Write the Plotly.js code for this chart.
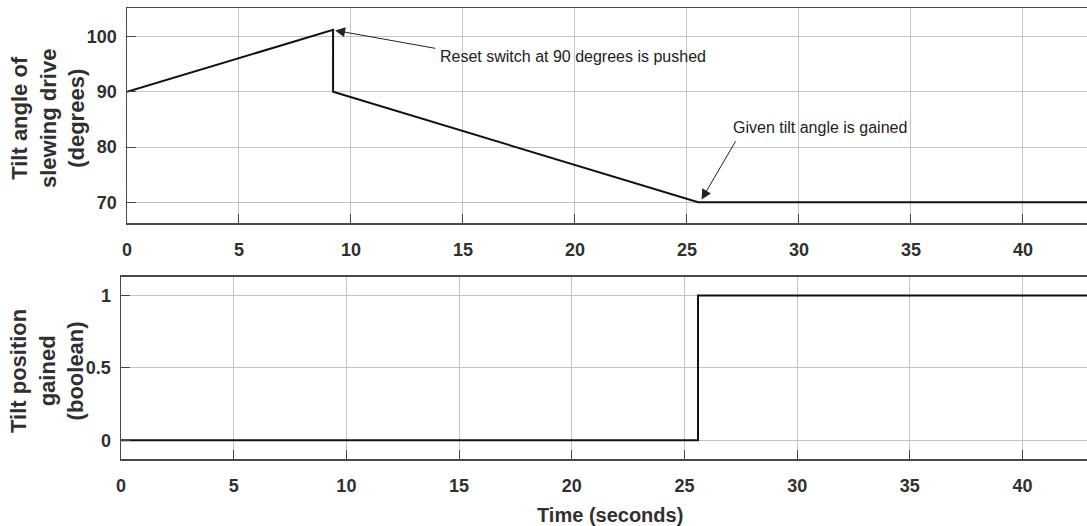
<!DOCTYPE html>
<html>
<head>
<meta charset="utf-8">
<script src="https://cdn.plot.ly/plotly-3.0.1.min.js"></script>
<style>html,body{margin:0;padding:0;background:#fff;}#chart{width:1087px;height:526px;}</style>
</head>
<body>
<div id="chart"></div>
<script>
// ---- data ----
var timeAngle = [0, 9.2, 9.2, 25.5, 42.9];
var tiltAngle = [90, 101.2, 90, 70, 70];
var timeGained = [0, 25.6, 25.6, 42.9];
var tiltGained = [0, 0, 1, 1];
var xTicks = [0, 5, 10, 15, 20, 25, 30, 35, 40];
var yTicksAngle = [70, 80, 90, 100];
var yTicksGained = [0, 0.5, 1];
var yTickTextGained = ['0', '0.5', '1'];

var FONT = 'Liberation Sans, Arial, sans-serif';
var TXT = '#303030';

var traces = [
  {x: timeAngle, y: tiltAngle, xaxis: 'x', yaxis: 'y', mode: 'lines',
   line: {color: '#111', width: 2}, hoverinfo: 'skip'},
  {x: timeGained, y: tiltGained, xaxis: 'x2', yaxis: 'y2', mode: 'lines',
   line: {color: '#111', width: 2}, hoverinfo: 'skip'}
];

function xax(domain, anchor) {
  return {domain: domain, anchor: anchor, range: [0, 42.86], tickvals: xTicks,
    showgrid: true, gridcolor: '#c4c4c4', gridwidth: 1, zeroline: false,
    showline: true, linecolor: '#4a4a4a', linewidth: 1.5, mirror: true,
    ticks: 'inside', ticklen: 9, tickcolor: '#444', tickwidth: 1,
    ticklabelstandoff: 10,
    tickfont: {family: FONT, size: 18, color: TXT, weight: 'bold'}};
}
function yax(domain, anchor, range, vals, text) {
  var a = {domain: domain, anchor: anchor, range: range, tickvals: vals,
    showgrid: true, gridcolor: '#c4c4c4', gridwidth: 1, zeroline: false,
    showline: true, linecolor: '#4a4a4a', linewidth: 1.5, mirror: false,
    ticks: 'inside', ticklen: 9, tickcolor: '#444', tickwidth: 1,
    ticklabelstandoff: 5,
    tickfont: {family: FONT, size: 18, color: TXT, weight: 'bold'}};
  if (text) a.ticktext = text;
  return a;
}

var titleFont = {family: FONT, size: 22, color: TXT, weight: 'bold'};
var xTitleFont = {family: FONT, size: 20, color: TXT, weight: 'bold'};
var noteFont = {family: FONT, size: 16, color: '#222'};

var layout = {
  width: 1087, height: 526,
  margin: {l: 0, r: 0, t: 0, b: 0},
  paper_bgcolor: '#fff', plot_bgcolor: '#fff',
  showlegend: false,
  xaxis: xax([127/1087, 1], 'y'),
  yaxis: yax([1 - 223/526, 1 - 8/526], 'x', [66.25, 105.15], yTicksAngle),
  xaxis2: xax([121/1087, 1], 'y2'),
  yaxis2: yax([1 - 459/526, 1 - 276.7/526], 'x2', [-0.13, 1.13], yTicksGained, yTickTextGained),
  annotations: [
    {xref: 'paper', yref: 'paper', x: 48/1087, y: 1 - 119/526, text: 'Tilt angle of<br>slewing drive<br>(degrees)',
     textangle: -90, showarrow: false, font: titleFont, xanchor: 'center', yanchor: 'middle'},
    {xref: 'paper', yref: 'paper', x: 47/1087, y: 1 - 371/526, text: 'Tilt position<br>gained<br>(boolean)',
     textangle: -90, showarrow: false, font: titleFont, xanchor: 'center', yanchor: 'middle'},
    {xref: 'paper', yref: 'paper', x: 610/1087, y: 1 - 515/526, text: 'Time (seconds)',
     showarrow: false, font: xTitleFont, xanchor: 'center', yanchor: 'middle'},
    {xref: 'x', yref: 'y', x: 9.29, y: 101.1, ax: 13.83, ay: 97.8, axref: 'x', ayref: 'y',
     text: '', showarrow: true, arrowhead: 2, arrowsize: 2, arrowwidth: 1, arrowcolor: '#222', standoff: 0},
    {xref: 'x', yref: 'y', x: 13.9, y: 96.3, text: 'Reset switch at 90 degrees is pushed',
     showarrow: false, font: noteFont, xanchor: 'left', yanchor: 'middle'},
    {xref: 'x', yref: 'y', x: 25.65, y: 70.5, ax: 27.21, ay: 81.3, axref: 'x', ayref: 'y',
     text: '', showarrow: true, arrowhead: 2, arrowsize: 2, arrowwidth: 1, arrowcolor: '#222', standoff: 0},
    {xref: 'x', yref: 'y', x: 26.95, y: 83.5, text: 'Given tilt angle is gained',
     showarrow: false, font: noteFont, xanchor: 'left', yanchor: 'middle'}
  ]
};

Plotly.newPlot('chart', traces, layout, {staticPlot: true, displayModeBar: false});
</script>
</body>
</html>
